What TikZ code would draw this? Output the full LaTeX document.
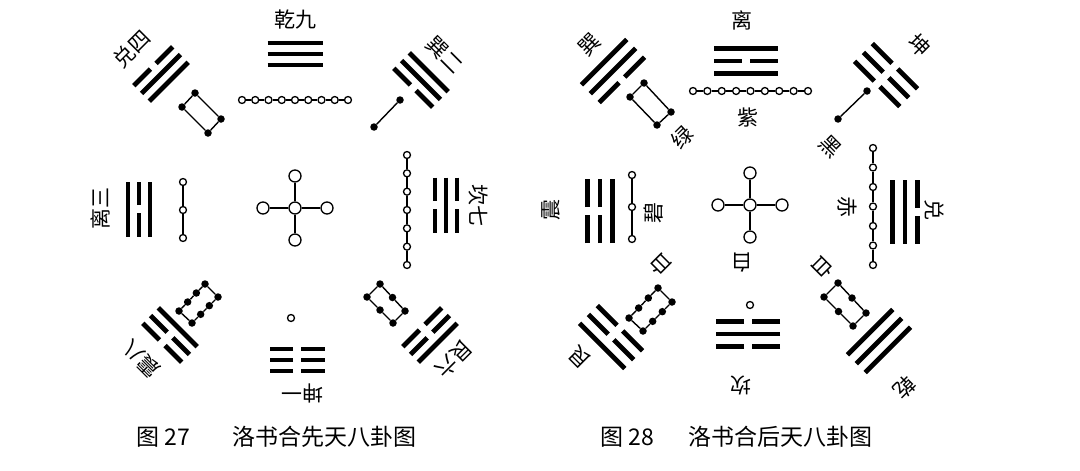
\documentclass[tikz,border=0pt]{standalone}
\usepackage{fontspec}
\newfontfamily\cjk{Noto Sans CJK SC}
\usetikzlibrary{calc}

\tikzset{
  yao/.style={line width=4.8pt},
  chainline/.style={line width=1.4pt},
  ring/.style={circle, draw, line width=1.3pt, inner sep=0pt, minimum size=7pt},
  bigring/.style={ring, minimum size=12pt},
  blackdot/.style={circle, fill, inner sep=0pt, minimum size=7.5pt},
  lbl/.style={font=\cjk\fontsize{21}{21}\selectfont, inner sep=0pt},
  caption/.style={font=\cjk\fontsize{23}{23}\selectfont, inner sep=0pt, anchor=west},
}

% one trigram: centre, turn, lines from the inside out, half length, spacing
\newcommand\gua[5]{%
  \begin{scope}[shift={#1}, rotate=#2]
    \foreach \kind [count=\i] in {#3} {
      \pgfmathsetmacro\yy{(2-\i)*#5}
      \ifnum\kind=1
        \draw[yao] (-#4,\yy) -- (#4,\yy);
      \else
        \draw[yao] (-#4,\yy) -- (-4,\yy) (4,\yy) -- (#4,\yy);
      \fi
    }
  \end{scope}}

% white rings on a straight string
\newcommand\ringchain[4]{%
  \foreach \i in {1,...,#2}
    \node[ring] (#1\i) at ($#3!{(\i-1)/(#2-1)}!#4$) {};
  \foreach \i [remember=\i as \k (initially 1)] in {2,...,#2}
    \draw[chainline] (#1\k) -- (#1\i);}

% black dots on two sides of a box
\newcommand\dotbox[6]{%
  \foreach \i in {1,...,#2} {
    \node[blackdot] (#1a\i) at ($#3!{(\i-1)/(#2-1)}!#4$) {};
    \node[blackdot] (#1b\i) at ($#5!{(\i-1)/(#2-1)}!#6$) {};
  }
  \foreach \i [remember=\i as \k (initially 1)] in {2,...,#2}
    \draw[chainline] (#1a\k) -- (#1a\i) (#1b\k) -- (#1b\i);
  \draw[chainline] (#1a1) -- (#1b1) (#1a#2) -- (#1b#2);}

\begin{document}
\begin{tikzpicture}[x=1pt, y=-1pt]
  \useasboundingbox (0,0) rectangle (1080,471);

  % ---- figure 27 ----
  \gua{(295,54)}{0}{1,1,1}{27.5}{11}
  \gua{(161,74)}{45}{1,1,0}{27.5}{11}
  \gua{(421,80)}{-45}{0,1,1}{27.5}{11}
  \gua{(139,209)}{90}{1,0,1}{27.5}{11}
  \gua{(446,205)}{-90}{0,1,0}{27.5}{11}
  \gua{(170,335)}{135}{1,0,0}{27.5}{11}
  \gua{(297,360)}{180}{0,0,0}{27.5}{11}
  \gua{(430,335)}{-135}{0,0,1}{27.5}{11}

  \node[lbl] (qian) at (295,20) {乾九};
  \node[lbl, rotate=45] (dui) at (132,49) {兑四};
  \node[lbl, rotate=-45] (xun) at (445,55) {巽二};
  \node[lbl, rotate=90] (li) at (100,208) {离三};
  \node[lbl, rotate=-90] (kan) at (478,205) {坎七};
  \node[lbl, rotate=135] (zhen) at (141,359) {震八};
  \node[lbl, rotate=180] (kun) at (302,393) {坤一};
  \node[lbl, rotate=-135] (gen) at (454,359) {艮六};

  \ringchain{ja}{9}{(242,100)}{(348,100)}
  \ringchain{jb}{3}{(183,182)}{(183,238)}
  \ringchain{jc}{7}{(407,155)}{(407,265)}
  \node[ring] (jd) at (291,318) {};
  \dotbox{je}{2}{(182,107)}{(195,93)}{(208,133)}{(221,119)}
  \node[blackdot] (jf1) at (400,100) {};
  \node[blackdot] (jf2) at (374,127) {};
  \draw[chainline] (jf1) -- (jf2);
  \dotbox{jg}{4}{(179,311)}{(205,284)}{(192,323)}{(218,297)}
  \dotbox{jh}{3}{(367,297)}{(393,323)}{(380,284)}{(405,311)}

  \node[bigring] (jm) at (295,208) {};
  \node[bigring] (jn) at (295,176) {};
  \node[bigring] (js) at (295,240) {};
  \node[bigring] (jw) at (263,208) {};
  \node[bigring] (je5) at (327,208) {};
  \draw[chainline] (jm) -- (jn) (jm) -- (js) (jm) -- (jw) (jm) -- (je5);

  \node[caption] (cap27a) at (136,437) {图 27};
  \node[caption] (cap27b) at (232,437) {洛书合先天八卦图};

  % ---- figure 28 ----
  \gua{(746,61)}{0}{1,0,1}{32}{12.5}
  \gua{(613,71)}{45}{0,1,1}{32}{12.5}
  \gua{(886,75)}{-45}{0,0,0}{32}{12.5}
  \gua{(600,211)}{90}{1,0,0}{32}{12.5}
  \gua{(905,212)}{-90}{1,1,0}{32}{12.5}
  \gua{(611,337)}{135}{0,0,1}{32}{12.5}
  \gua{(748,334)}{180}{0,1,0}{32}{12.5}
  \gua{(879,341)}{-135}{1,1,1}{32}{12.5}

  \node[lbl] (hli) at (742,20) {离};
  \node[lbl, rotate=45] (hxun) at (590,45) {巽};
  \node[lbl, rotate=-45] (hkun) at (920,45) {坤};
  \node[lbl, rotate=90] (hzhen) at (551,210) {震};
  \node[lbl, rotate=-90] (hdui) at (934,210) {兑};
  \node[lbl, rotate=135] (hgen) at (580,357) {艮};
  \node[lbl, rotate=180] (hkan) at (741,385) {坎};
  \node[lbl, rotate=-135] (hqian) at (905,388) {乾};

  \node[lbl] (zi) at (748,118) {紫};
  \node[lbl, rotate=45] (lv) at (682,137) {绿};
  \node[lbl, rotate=-45] (hei) at (830,147) {黑};
  \node[lbl, rotate=90] (bi) at (654,213) {碧};
  \node[lbl, rotate=-90] (chi) at (847,207) {赤};
  \node[lbl, rotate=135] (bai8) at (660,265) {白};
  \node[lbl, rotate=180] (bai1) at (742,263) {白};
  \node[lbl, rotate=-135] (bai6) at (823,268) {白};

  \ringchain{ha}{9}{(693,91)}{(808,91)}
  \ringchain{hb}{3}{(632,175)}{(632,239)}
  \ringchain{hc}{7}{(873,148)}{(873,265)}
  \node[ring] (hd) at (750,305) {};
  \dotbox{he}{2}{(630,97)}{(644,83)}{(657,125)}{(671,112)}
  \node[blackdot] (hf1) at (867,91) {};
  \node[blackdot] (hf2) at (838,119) {};
  \draw[chainline] (hf1) -- (hf2);
  \dotbox{hg}{4}{(629,318)}{(658,288)}{(643,331)}{(672,302)}
  \dotbox{hh}{3}{(824,297)}{(853,326)}{(838,283)}{(866,313)}

  \node[bigring] (hm) at (750,205) {};
  \node[bigring] (hn) at (750,173) {};
  \node[bigring] (hs) at (750,237) {};
  \node[bigring] (hw) at (718,205) {};
  \node[bigring] (he5) at (782,205) {};
  \draw[chainline] (hm) -- (hn) (hm) -- (hs) (hm) -- (hw) (hm) -- (he5);

  \node[caption] (cap28a) at (600,437) {图 28};
  \node[caption] (cap28b) at (688,437) {洛书合后天八卦图};
\end{tikzpicture}
\end{document}
